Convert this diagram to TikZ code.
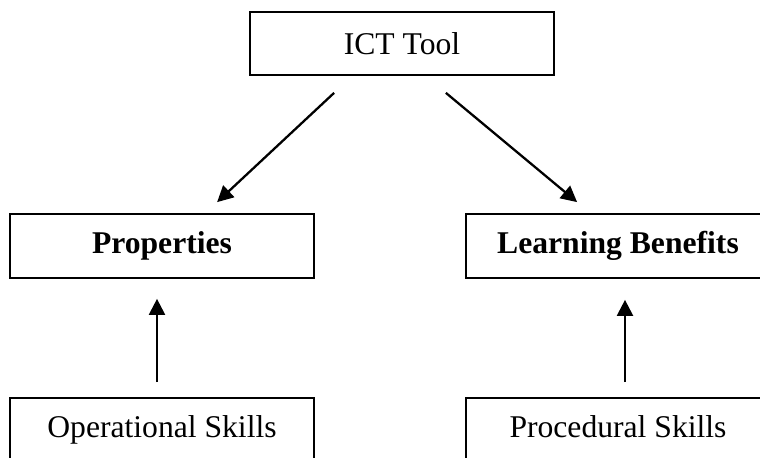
\documentclass[tikz,border=0pt]{standalone}
\usepackage{fontspec}
\setmainfont{Liberation Serif}
\usetikzlibrary{arrows.meta}
\begin{document}
\begin{tikzpicture}[
		font=\fontsize{18}{21}\selectfont,
		box/.style={draw, line width=1pt, minimum width=6.08cm, minimum height=1.28cm, inner sep=0pt},
		arr/.style={line width=1.3pt, -{Triangle[length=0.32cm, width=0.32cm]}}]
		\useasboundingbox (0,0) rectangle (15.2,-9.16);
		\node[box, minimum height=1.26cm] (A) at (8.04,-0.87) {ICT Tool};
		\node[box] (B) at (3.24,-4.92) {\textbf{Properties}};
		\node[box] (C) at (12.36,-4.92) {\textbf{Learning Benefits}};
		\node[box, minimum height=1.36cm, text depth=0.2cm] (D) at (3.24,-8.64) {Operational Skills};
		\node[box, minimum height=1.36cm, text depth=0.2cm] (E) at (12.36,-8.64) {Procedural Skills};
		\draw[arr] ([xshift=1.7cm,yshift=-0.34cm]A.south west) to ([xshift=4.16cm,yshift=0.22cm]B.north west);
		\draw[arr] ([xshift=-2.18cm,yshift=-0.34cm]A.south east) to ([xshift=2.24cm,yshift=0.22cm]C.north west);
		\draw[arr] ([xshift=-0.1cm,yshift=0.3cm]D.north) to ([xshift=-0.1cm,yshift=-0.4cm]B.south);
		\draw[arr] ([xshift=0.14cm,yshift=0.3cm]E.north) to ([xshift=0.14cm,yshift=-0.42cm]C.south);
\end{tikzpicture}
\end{document}
